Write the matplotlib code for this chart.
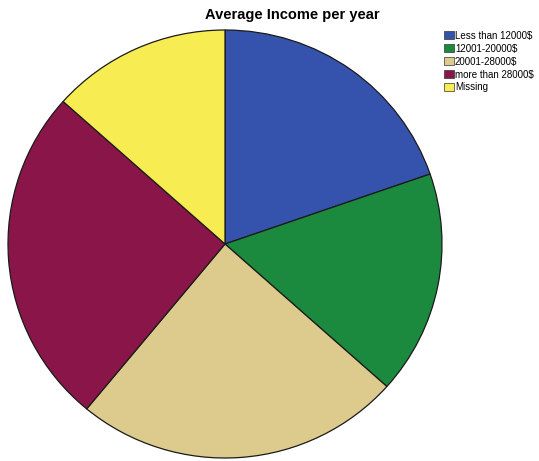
import matplotlib.pyplot as plt
from matplotlib.patches import Patch

labels = ['Less than 12000$', '12001-20000$', '20001-28000$', 'more than 28000$', 'Missing']
shares = [19.7, 16.9, 24.4, 25.6, 13.4]
colors = ['#3553ad', '#1b8a3e', '#dccb8c', '#8a1649', '#f7ec52']

fig = plt.figure(figsize=(5.39, 4.61), dpi=100)
# pie axes in pixels: center ~ (225, 244), radii ~ 217 x 214
ax = fig.add_axes([(225 - 217) / 539, (461 - 244 - 214) / 461, 434 / 539, 428 / 461])
ax.pie(shares, colors=colors, startangle=90, counterclock=False,
       wedgeprops=dict(edgecolor='#1a1a1a', linewidth=0.9))
ax.set_aspect('auto')
ax.set_xlim(-1, 1)
ax.set_ylim(-1, 1)

fig.text(205 / 539, 1 - 15 / 461, 'Average Income per year', ha='left', va='center',
         fontsize=10.5, fontweight='bold', family='Liberation Sans')

handles = [Patch(facecolor=c, edgecolor='#333333', linewidth=0.5) for c in colors]
fig.legend(handles, labels, loc='upper left', bbox_to_anchor=(437 / 539, 1 - 24 / 461),
           frameon=False, handlelength=1.0, handleheight=0.9,
           handletextpad=0.15, labelspacing=0.3, borderpad=0.2,
           prop=dict(family='Liberation Sans', size=7))

fig.savefig('out.png', dpi=100)
